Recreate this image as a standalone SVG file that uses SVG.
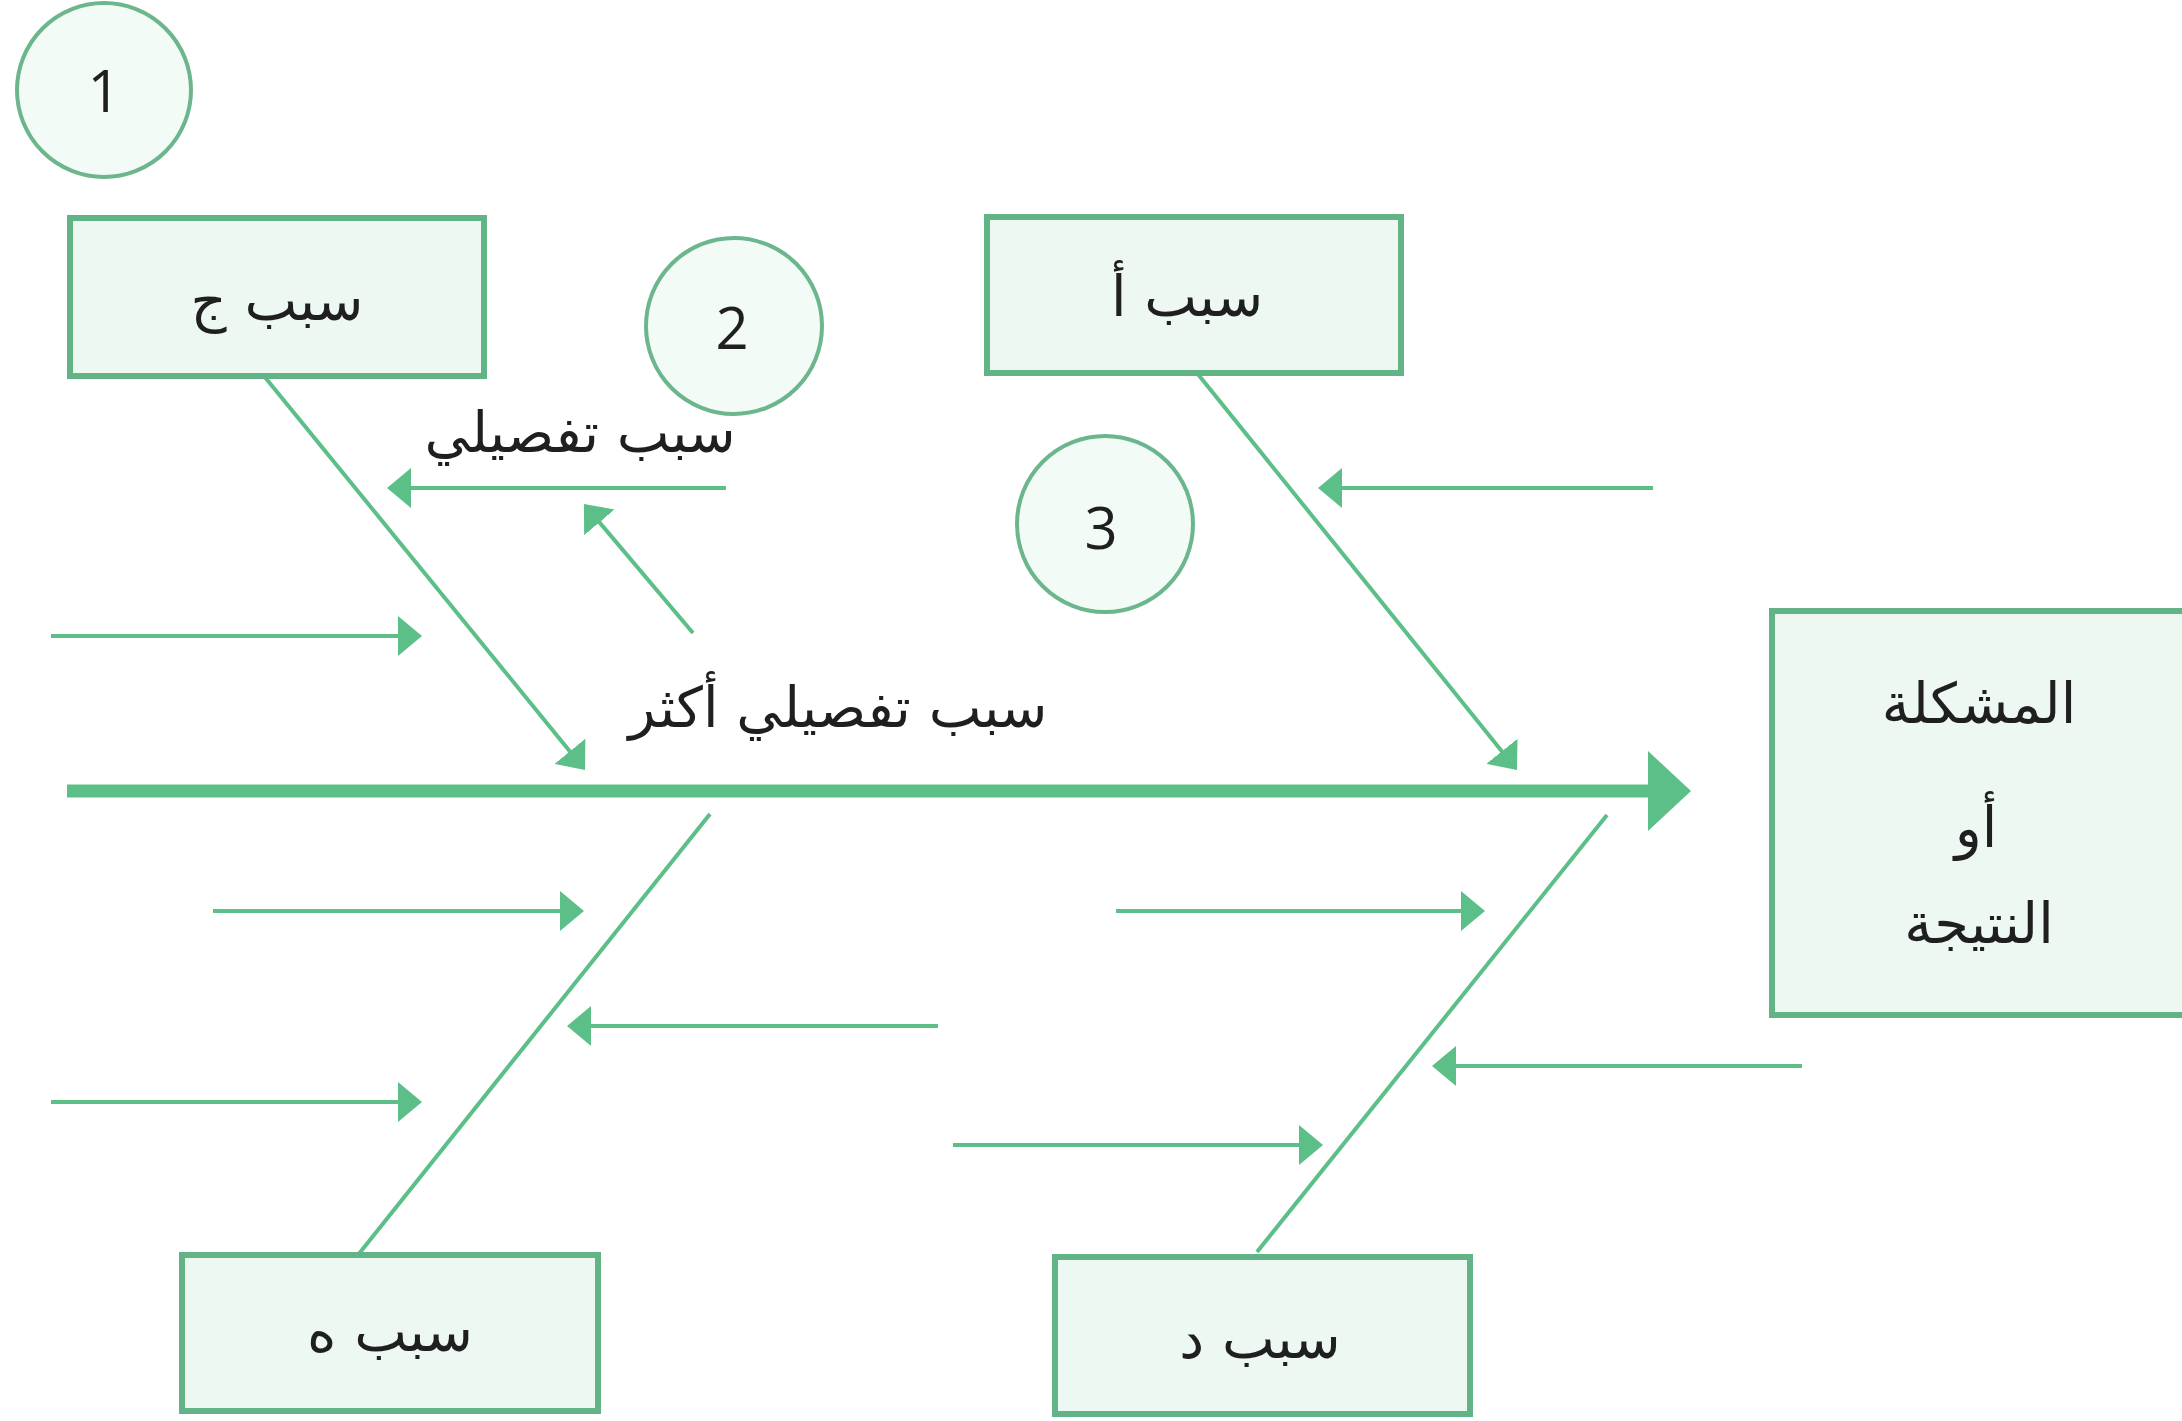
<svg xmlns="http://www.w3.org/2000/svg" width="2182" height="1421" viewBox="0 0 2182 1421">
  <style>
    .box { fill: #EEF8F2; stroke: #62B386; stroke-width: 6; }
    .circ { fill: #F3FBF6; stroke: #6CB68E; stroke-width: 4; }
    .ar { font-family: "DejaVu Sans", "Noto Sans", sans-serif; font-size: 56px; fill: #1F1F1F; text-anchor: middle; }
    .num { font-family: "Open Sans", "Liberation Sans", sans-serif; font-size: 58px; fill: #1F1F1F; text-anchor: middle; }
    .bone { stroke: #5CBF87; stroke-width: 4; fill: none; }
    .spine { stroke: #5CBF87; stroke-width: 13; fill: none; }
  </style>
  <defs>
    <marker id="ah" markerUnits="userSpaceOnUse" markerWidth="24" markerHeight="40" refX="14" refY="20" orient="auto" viewBox="0 0 24 40">
      <path d="M0,0 L24,20 L0,40 Z" fill="#5CBF87"/>
    </marker>
    <marker id="ahBig" markerUnits="userSpaceOnUse" markerWidth="43" markerHeight="80" refX="12" refY="40" orient="auto" viewBox="0 0 43 80">
      <path d="M0,0 L43,40 L0,80 Z" fill="#5CBF87"/>
    </marker>
  </defs>
  <rect width="2182" height="1421" fill="#FFFFFF"/>

  <g id="connectors">
    <line class="spine" x1="67" y1="791" x2="1660" y2="791" marker-end="url(#ahBig)"/>
    <line class="bone" x1="264" y1="376" x2="578.7" y2="762.2" marker-end="url(#ah)"/>
    <line class="bone" x1="1197" y1="373" x2="1510.7" y2="762.2" marker-end="url(#ah)"/>
    <line class="bone" x1="358" y1="1255" x2="710" y2="814"/>
    <line class="bone" x1="1257" y1="1252" x2="1607" y2="815"/>
    <line class="bone" x1="726" y1="488" x2="397" y2="488" marker-end="url(#ah)"/>
    <line class="bone" x1="693" y1="633" x2="590.4" y2="511.6" marker-end="url(#ah)"/>
    <line class="bone" x1="51" y1="636" x2="412" y2="636" marker-end="url(#ah)"/>
    <line class="bone" x1="1653" y1="488" x2="1328" y2="488" marker-end="url(#ah)"/>
    <line class="bone" x1="213" y1="911" x2="574" y2="911" marker-end="url(#ah)"/>
    <line class="bone" x1="938" y1="1026" x2="577" y2="1026" marker-end="url(#ah)"/>
    <line class="bone" x1="51" y1="1102" x2="412" y2="1102" marker-end="url(#ah)"/>
    <line class="bone" x1="1116" y1="911" x2="1475" y2="911" marker-end="url(#ah)"/>
    <line class="bone" x1="1802" y1="1066" x2="1442" y2="1066" marker-end="url(#ah)"/>
    <line class="bone" x1="953" y1="1145" x2="1313" y2="1145" marker-end="url(#ah)"/>
  </g>

  <g id="circle-1">
    <circle class="circ" cx="104" cy="90" r="87"/>
    <text class="num" x="104" y="112">1</text>
  </g>
  <g id="circle-2">
    <circle class="circ" cx="734" cy="326" r="88"/>
    <text class="num" x="732" y="349">2</text>
  </g>
  <g id="circle-3">
    <circle class="circ" cx="1105" cy="524" r="88"/>
    <text class="num" x="1101" y="549">3</text>
  </g>

  <g id="cause-c">
    <rect class="box" x="70" y="218" width="414" height="158"/>
    <text class="ar" x="277" y="320">سبب ج</text>
  </g>
  <g id="cause-a">
    <rect class="box" x="987" y="217" width="414" height="156"/>
    <text class="ar" x="1187" y="316">سبب أ</text>
  </g>
  <g id="cause-e">
    <rect class="box" x="182" y="1255" width="416" height="156"/>
    <text class="ar" x="390" y="1351">سبب ه</text>
  </g>
  <g id="cause-d">
    <rect class="box" x="1055" y="1257" width="415" height="157"/>
    <text class="ar" x="1260" y="1358">سبب د</text>
  </g>
  <g id="problem">
    <rect class="box" x="1772" y="611" width="430" height="404"/>
    <text class="ar" x="1979" y="723">المشكلة</text>
    <text class="ar" x="1976" y="847">أو</text>
    <text class="ar" x="1979" y="943">النتيجة</text>
  </g>

  <g id="label-detail">
    <text class="ar" x="580" y="452">سبب تفصيلي</text>
  </g>
  <g id="label-more-detail">
    <text class="ar" x="838" y="727">سبب تفصيلي أكثر</text>
  </g>
</svg>
